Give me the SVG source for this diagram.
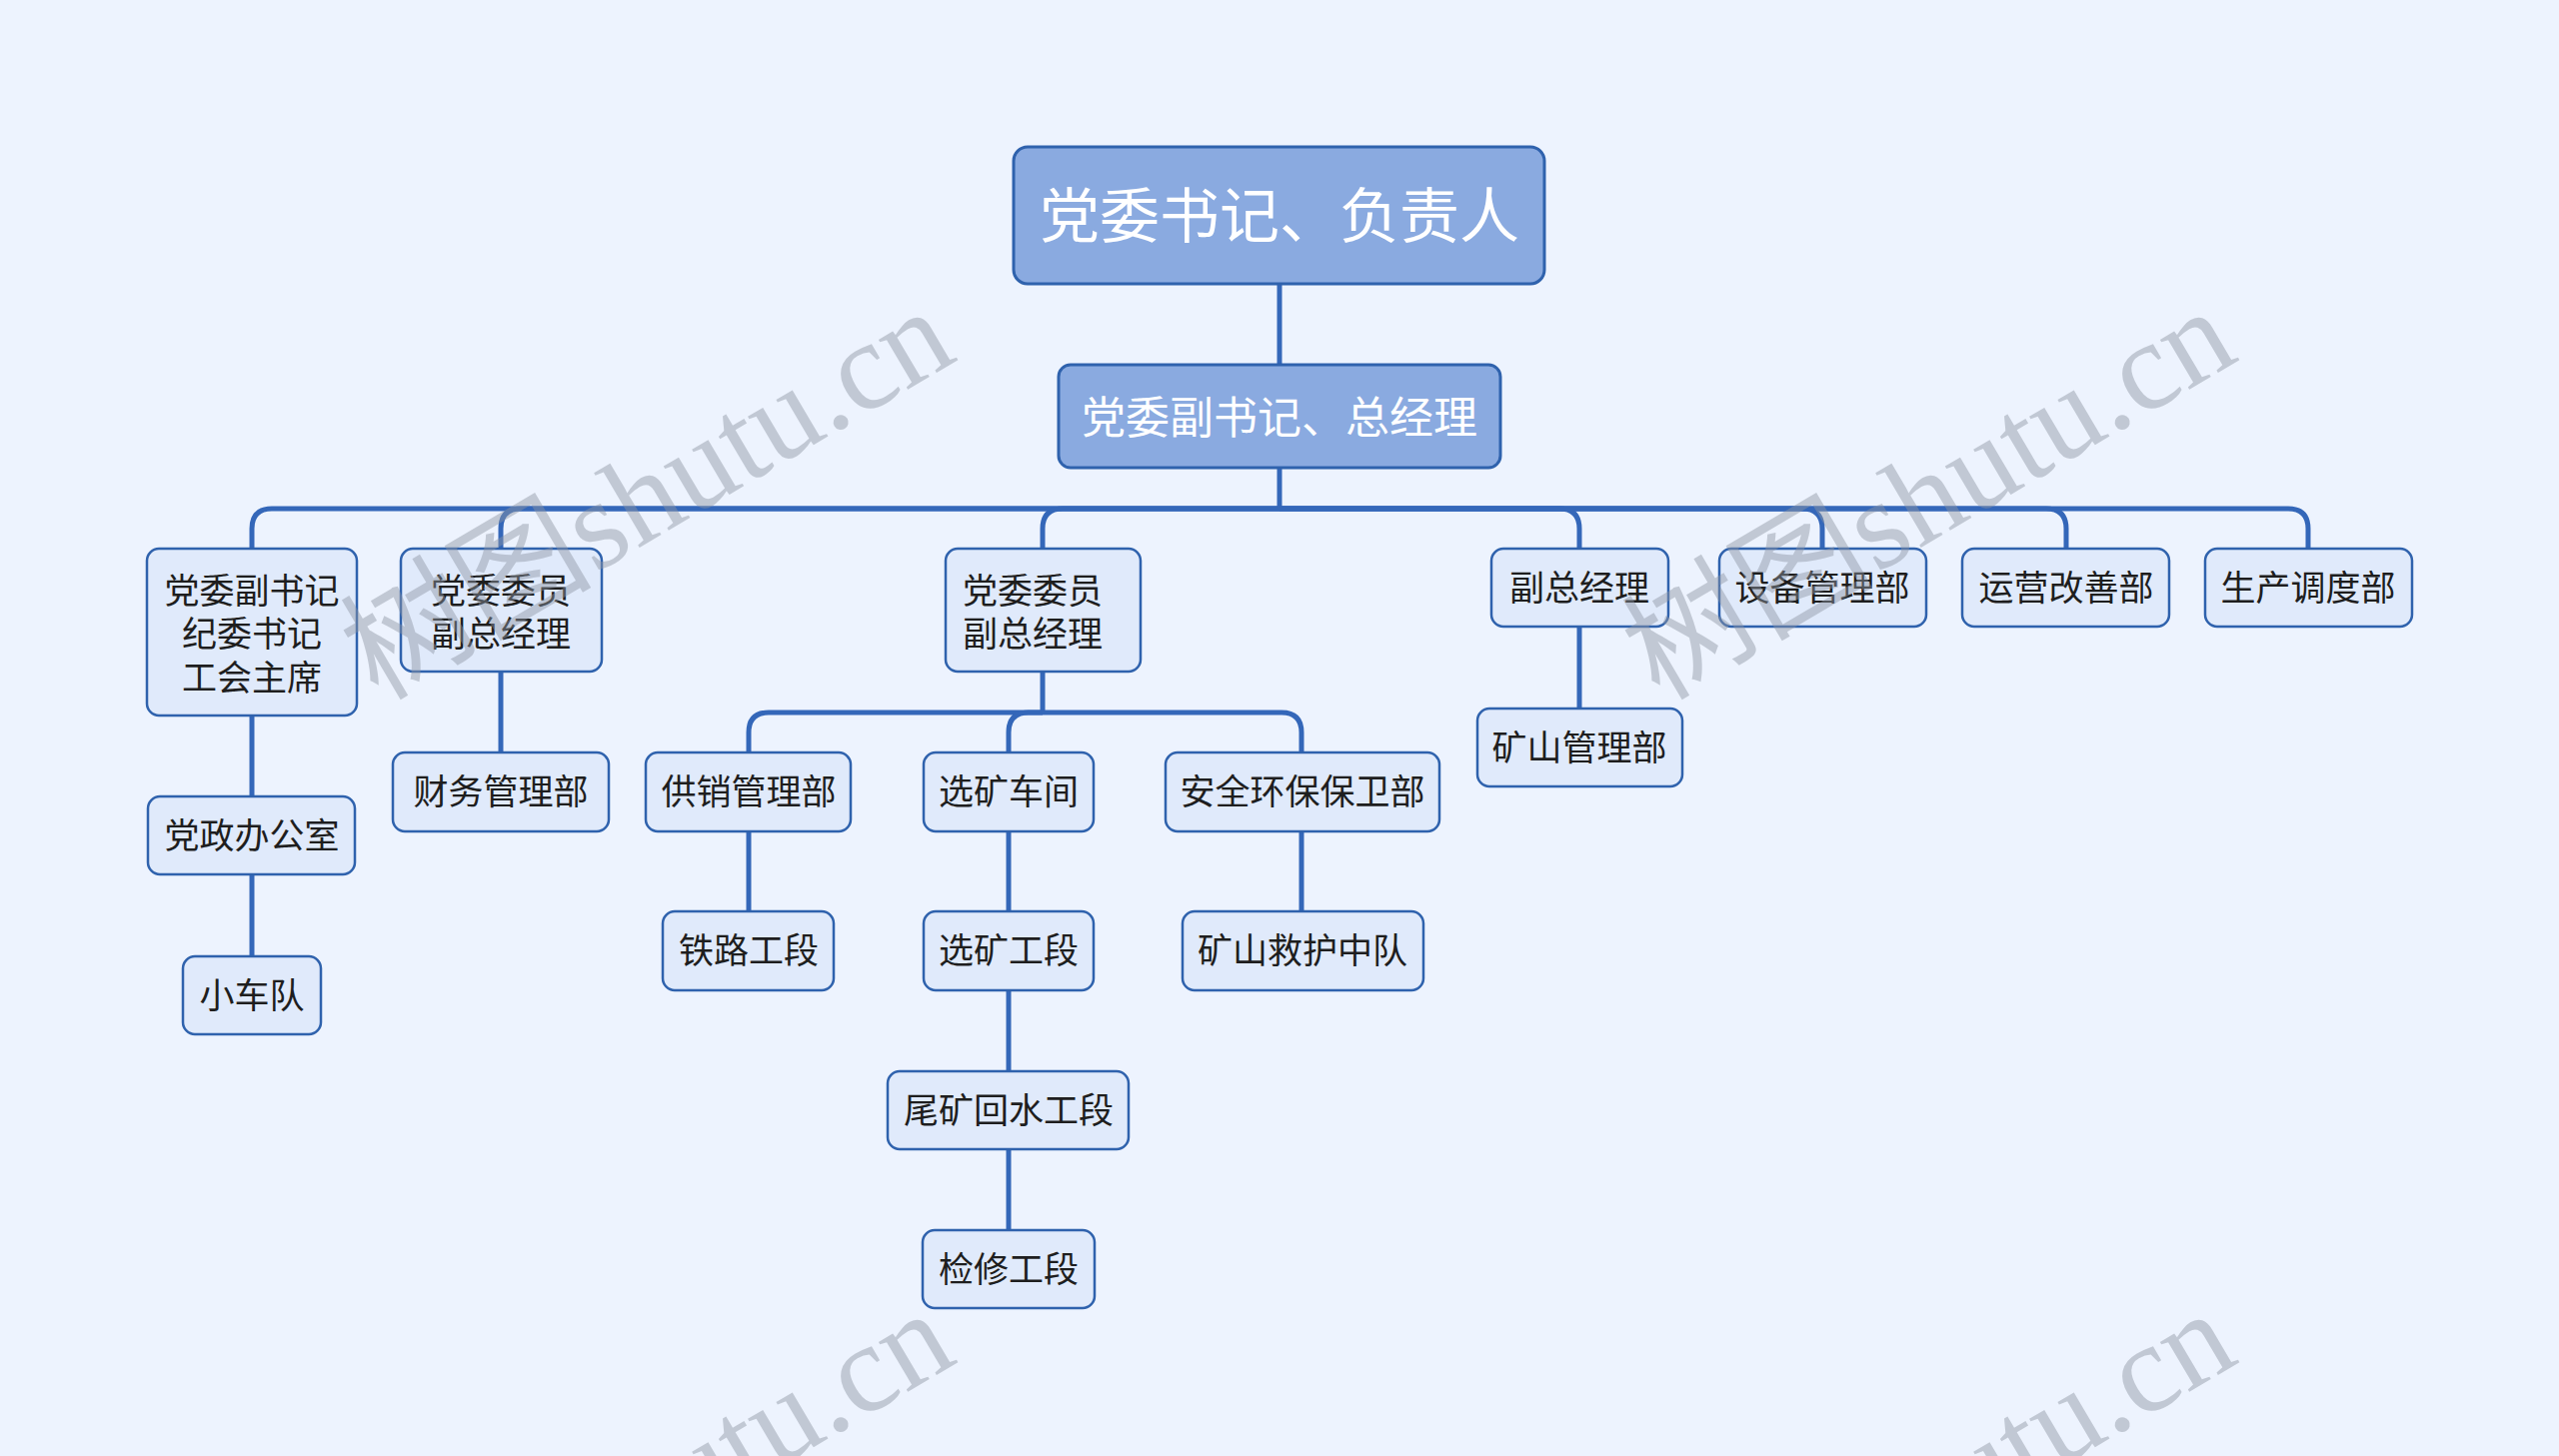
<svg xmlns="http://www.w3.org/2000/svg" width="2560" height="1457" viewBox="0 0 2560 1457">
<style>
.bg{fill:#edf3fe}
.top{fill:#8aaae0;stroke:#2f62ad;stroke-width:3}
.nd{fill:#e0eafb;stroke:#2f62ad;stroke-width:2.5}
.tw{font-family:"Noto Sans CJK SC","Noto Sans",sans-serif;fill:#ffffff;text-anchor:middle}
.t{font-family:"Noto Sans CJK SC","Noto Sans",sans-serif;font-size:35px;fill:#1e1e1e;text-anchor:middle}
.tl{text-anchor:start}
.ln{fill:none;stroke:#3467b9;stroke-width:5;stroke-linecap:butt}
.wm{font-family:"Liberation Serif","Noto Sans CJK SC",serif;font-size:126px;fill:#8e96a3;opacity:0.45}
</style>
<rect class="bg" x="0" y="0" width="2560" height="1457"/>
<g id="connectors">
<path class="ln" d="M1280 284 V365"/>
<path class="ln" d="M1280 468 V509"/>
<path class="ln" d="M1280 509 H272 Q252 509 252 529 V549"/>
<path class="ln" d="M1280 509 H521 Q501 509 501 529 V549"/>
<path class="ln" d="M1280 509 H1063 Q1043 509 1043 529 V549"/>
<path class="ln" d="M1280 509 H1560 Q1580 509 1580 529 V549"/>
<path class="ln" d="M1280 509 H1803 Q1823 509 1823 529 V549"/>
<path class="ln" d="M1280 509 H2047 Q2067 509 2067 529 V549"/>
<path class="ln" d="M1280 509 H2289 Q2309 509 2309 529 V549"/>
<path class="ln" d="M252 716 V797"/>
<path class="ln" d="M252 875 V957"/>
<path class="ln" d="M501 672 V753"/>
<path class="ln" d="M1043 672 V713"/>
<path class="ln" d="M1043 713 H769 Q749 713 749 733 V753"/>
<path class="ln" d="M1043 713 H1029 Q1009 713 1009 733 V753"/>
<path class="ln" d="M1043 713 H1282 Q1302 713 1302 733 V753"/>
<path class="ln" d="M749 832 V912"/>
<path class="ln" d="M1009 832 V912"/>
<path class="ln" d="M1009 991 V1072"/>
<path class="ln" d="M1009 1150 V1231"/>
<path class="ln" d="M1302 832 V912"/>
<path class="ln" d="M1580 627 V709"/>
</g>
<g id="root"><rect class="top" x="1014" y="147" width="531" height="137" rx="14"/><text class="tw" x="1280" y="238" font-size="60">党委书记、负责人</text></g>
<g id="gm"><rect class="top" x="1059" y="365" width="442" height="103" rx="12"/><text class="tw" x="1280" y="434" font-size="44">党委副书记、总经理</text></g>
<g id="n1"><rect class="nd" x="147" y="549" width="210" height="167" rx="12"/><text class="t" x="252" y="604">党委副书记</text><text class="t" x="252" y="647">纪委书记</text><text class="t" x="252" y="691">工会主席</text></g>
<g id="n2"><rect class="nd" x="401" y="549" width="201" height="123" rx="12"/><text class="t" x="501" y="604">党委委员</text><text class="t" x="501" y="647">副总经理</text></g>
<g id="n3"><rect class="nd" x="946" y="549" width="195" height="123" rx="12"/><text class="t tl" x="963" y="604">党委委员</text><text class="t tl" x="963" y="647">副总经理</text></g>
<g id="n4"><rect class="nd" x="1492" y="549" width="177" height="78" rx="12"/><text class="t" x="1580" y="601">副总经理</text></g>
<g id="n5"><rect class="nd" x="1720" y="549" width="207" height="78" rx="12"/><text class="t" x="1823" y="601">设备管理部</text></g>
<g id="n6"><rect class="nd" x="1963" y="549" width="207" height="78" rx="12"/><text class="t" x="2067" y="601">运营改善部</text></g>
<g id="n7"><rect class="nd" x="2206" y="549" width="207" height="78" rx="12"/><text class="t" x="2309" y="601">生产调度部</text></g>
<g id="n1a"><rect class="nd" x="148" y="797" width="207" height="78" rx="12"/><text class="t" x="252" y="849">党政办公室</text></g>
<g id="n1b"><rect class="nd" x="183" y="957" width="138" height="78" rx="12"/><text class="t" x="252" y="1009">小车队</text></g>
<g id="n2a"><rect class="nd" x="393" y="753" width="216" height="79" rx="12"/><text class="t" x="501" y="805">财务管理部</text></g>
<g id="n3a"><rect class="nd" x="646" y="753" width="205" height="79" rx="12"/><text class="t" x="749" y="805">供销管理部</text></g>
<g id="n3b"><rect class="nd" x="924" y="753" width="170" height="79" rx="12"/><text class="t" x="1009" y="805">选矿车间</text></g>
<g id="n3c"><rect class="nd" x="1166" y="753" width="274" height="79" rx="12"/><text class="t" x="1303" y="805">安全环保保卫部</text></g>
<g id="n3a1"><rect class="nd" x="663" y="912" width="171" height="79" rx="12"/><text class="t" x="749" y="964">铁路工段</text></g>
<g id="n3b1"><rect class="nd" x="924" y="912" width="170" height="79" rx="12"/><text class="t" x="1009" y="964">选矿工段</text></g>
<g id="n3c1"><rect class="nd" x="1183" y="912" width="241" height="79" rx="12"/><text class="t" x="1303" y="964">矿山救护中队</text></g>
<g id="n3b2"><rect class="nd" x="888" y="1072" width="241" height="78" rx="12"/><text class="t" x="1009" y="1124">尾矿回水工段</text></g>
<g id="n3b3"><rect class="nd" x="923" y="1231" width="172" height="78" rx="12"/><text class="t" x="1009" y="1283">检修工段</text></g>
<g id="n4a"><rect class="nd" x="1478" y="709" width="205" height="78" rx="12"/><text class="t" x="1580" y="761">矿山管理部</text></g>
<g id="watermark">
<text class="wm" transform="translate(378 702) rotate(-30.5)">树图shutu.cn</text>
<text class="wm" transform="translate(1660 702) rotate(-30.5)">树图shutu.cn</text>
<text class="wm" transform="translate(378 1705) rotate(-30.5)">树图shutu.cn</text>
<text class="wm" transform="translate(1660 1705) rotate(-30.5)">树图shutu.cn</text>
</g>
</svg>
